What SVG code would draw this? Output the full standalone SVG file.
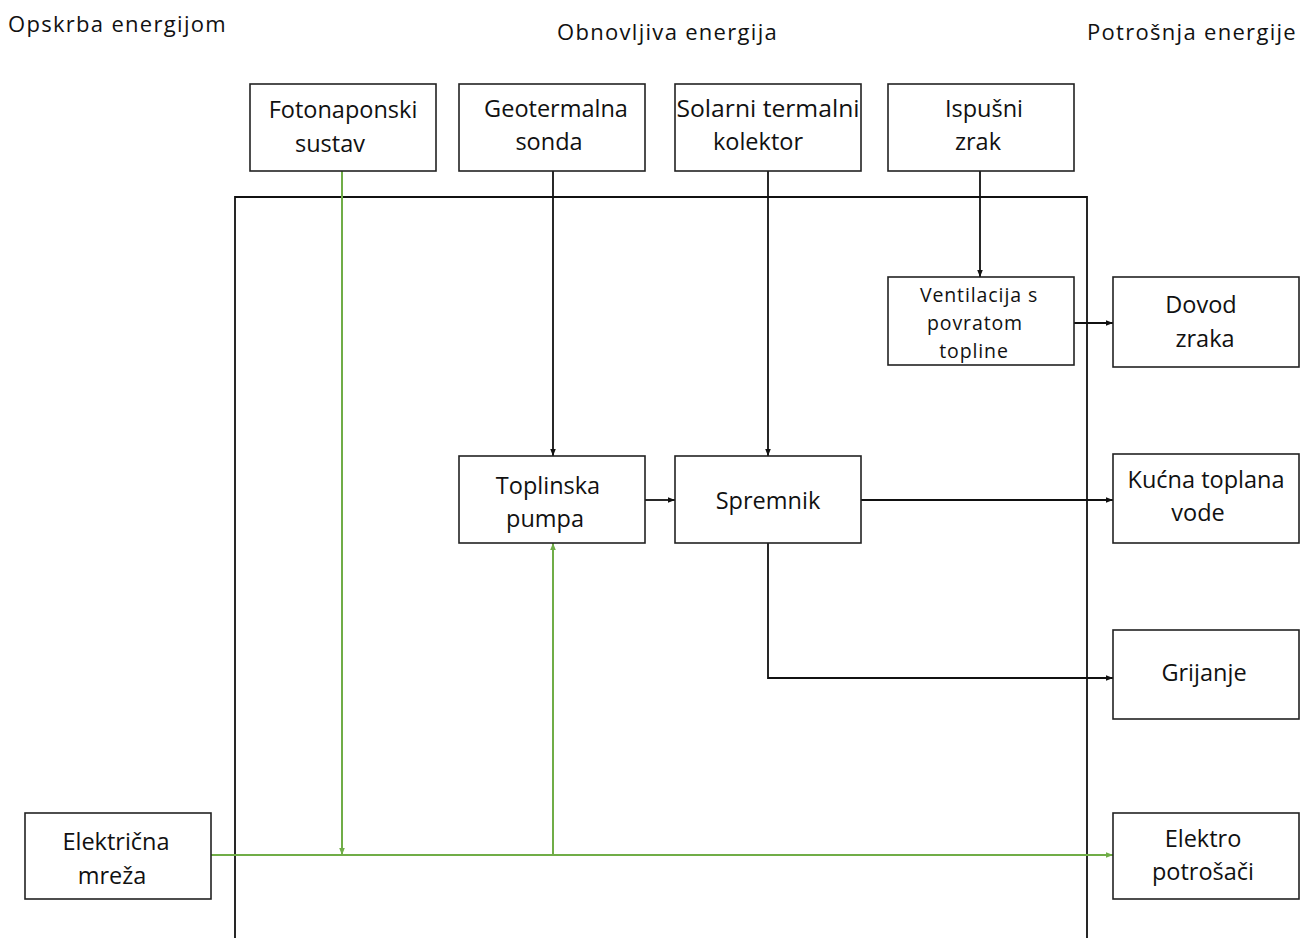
<svg xmlns="http://www.w3.org/2000/svg" width="1300" height="938" viewBox="0 0 1300 938">
<defs>
<style>
.box{fill:#fff;stroke:#222;stroke-width:1.6}
text{font-family:"Open Sans","Noto Sans",sans-serif;font-size:23.5px;fill:#111;text-anchor:middle}
.hdr{text-anchor:start;font-size:22px;letter-spacing:1.3px}
.sm{font-size:19.5px;letter-spacing:0.9px}
.blk{stroke:#111;stroke-width:1.8;fill:none}
.grn{stroke:#70ad47;stroke-width:2;fill:none}
</style>
<marker id="ab" viewBox="0 0 10 10" refX="10" refY="5" markerWidth="9" markerHeight="7" orient="auto" markerUnits="userSpaceOnUse"><path d="M0,1 L10,5 L0,9 z" fill="#111"/></marker>
<marker id="ag" viewBox="0 0 10 10" refX="10" refY="5" markerWidth="10" markerHeight="7" orient="auto" markerUnits="userSpaceOnUse"><path d="M0,1 L10,5 L0,9 z" fill="#70ad47"/></marker>
</defs>
<rect width="1300" height="938" fill="#fff"/>
<text class="hdr" x="8" y="32">Opskrba energijom</text>
<text class="hdr" x="557" y="40">Obnovljiva energija</text>
<text class="hdr" x="1087" y="40">Potrošnja energije</text>
<path id="frame" class="blk" d="M235,938 V197 H1087 V938"/>
<g id="connectors">
<path class="blk" d="M553,171 V456" marker-end="url(#ab)"/>
<path class="blk" d="M768,171 V456" marker-end="url(#ab)"/>
<path class="blk" d="M980,171 V277" marker-end="url(#ab)"/>
<path class="blk" d="M1074,323 H1113" marker-end="url(#ab)"/>
<path class="blk" d="M645,500 H675" marker-end="url(#ab)"/>
<path class="blk" d="M861,500 H1113" marker-end="url(#ab)"/>
<path class="blk" d="M768,543 V678 H1113" marker-end="url(#ab)"/>
<path class="grn" d="M211,855 H1113" marker-end="url(#ag)"/>
<path class="grn" d="M342,171 V855" marker-end="url(#ag)"/>
<path class="grn" d="M553,855 V543" marker-end="url(#ag)"/>
</g>
<g id="fotonaponski"><rect class="box" x="250" y="84" width="186" height="87"/><text x="343" y="118">Fotonaponski</text><text x="330" y="152">sustav</text></g>
<g id="geotermalna"><rect class="box" x="459" y="84" width="186" height="87"/><text x="556" y="117">Geotermalna</text><text x="549" y="150">sonda</text></g>
<g id="solarni"><rect class="box" x="675" y="84" width="186" height="87"/><text x="768" y="117" textLength="183" lengthAdjust="spacingAndGlyphs">Solarni termalni</text><text x="758" y="150">kolektor</text></g>
<g id="ispusni"><rect class="box" x="888" y="84" width="186" height="87"/><text x="984" y="117">Ispušni</text><text x="978" y="150">zrak</text></g>
<g id="ventilacija"><rect class="box" x="888" y="277" width="186" height="88"/><text class="sm" x="979" y="302">Ventilacija s</text><text class="sm" x="975" y="330">povratom</text><text class="sm" x="974" y="358">topline</text></g>
<g id="dovod"><rect class="box" x="1113" y="277" width="186" height="90"/><text x="1201" y="313">Dovod</text><text x="1205" y="347">zraka</text></g>
<g id="toplinska"><rect class="box" x="459" y="456" width="186" height="87"/><text x="548" y="494">Toplinska</text><text x="545" y="527">pumpa</text></g>
<g id="spremnik"><rect class="box" x="675" y="456" width="186" height="87"/><text x="768" y="509">Spremnik</text></g>
<g id="kucna"><rect class="box" x="1113" y="454" width="186" height="89"/><text x="1206" y="488">Kućna toplana</text><text x="1198" y="521">vode</text></g>
<g id="grijanje"><rect class="box" x="1113" y="630" width="186" height="89"/><text x="1204" y="681">Grijanje</text></g>
<g id="elektricna"><rect class="box" x="25" y="813" width="186" height="86"/><text x="116" y="850">Električna</text><text x="112" y="884">mreža</text></g>
<g id="elektro"><rect class="box" x="1113" y="813" width="186" height="86"/><text x="1203" y="847">Elektro</text><text x="1203" y="880">potrošači</text></g>
</svg>
